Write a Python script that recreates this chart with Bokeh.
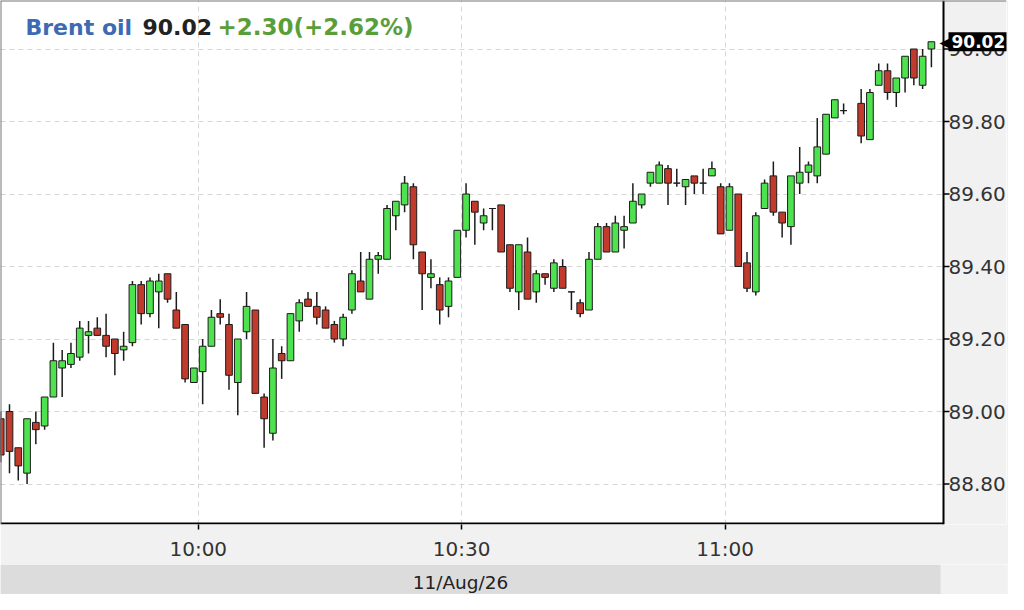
import numpy as np
import pandas as pd
from bokeh.plotting import figure
from bokeh.models import (ColumnDataSource, FixedTicker, Range1d, Label, NumeralTickFormatter,
                          BoxAnnotation, Span)
from bokeh.layouts import column
from bokeh.embed import file_html
from bokeh.resources import INLINE

# ---------------- data (1-minute candles, 11/Aug/26) ----------------
instrument = "Brent oil"
last_price = "90.02"
change_text = "+2.30(+2.62%)"
date_label = "11/Aug/26"

# bar start times: every minute 09:37 .. 11:23, no bar at 11:14
times = [t.strftime("%H:%M") for t in pd.date_range("2026-08-11 09:37", "2026-08-11 11:23", freq="1min")
         if t.strftime("%H:%M") != "11:14"]

opens = [88.98, 89.00, 88.90, 88.83, 88.97, 88.96, 89.04, 89.12, 89.13, 89.15,
         89.21, 89.23, 89.21, 89.20, 89.17, 89.19, 89.35, 89.27, 89.33, 89.38,
         89.28, 89.24, 89.08, 89.11, 89.18, 89.27, 89.24, 89.08, 89.22, 89.28,
         89.04, 88.94, 89.16, 89.14, 89.25, 89.31, 89.29, 89.28, 89.24, 89.20,
         89.28, 89.36, 89.31, 89.42, 89.42, 89.54, 89.57, 89.62, 89.44, 89.37,
         89.35, 89.29, 89.37, 89.50, 89.58, 89.52, 89.56, 89.57, 89.46, 89.33,
         89.44, 89.33, 89.38, 89.34, 89.40, 89.33, 89.30, 89.28, 89.42, 89.51,
         89.44, 89.50, 89.52, 89.57, 89.63, 89.63, 89.67, 89.63, 89.62, 89.65,
         89.63, 89.65, 89.62, 89.50, 89.60, 89.41, 89.33, 89.56, 89.65, 89.55,
         89.51, 89.63, 89.66, 89.65, 89.71, 89.81, 89.83, 89.85, 89.75, 89.90,
         89.94, 89.88, 89.92, 90.00, 89.90, 90.00]
highs = [89.00, 89.02, 88.90, 88.98, 89.00, 89.04, 89.19, 89.17, 89.19, 89.25,
         89.25, 89.26, 89.27, 89.20, 89.22, 89.36, 89.36, 89.37, 89.38, 89.38,
         89.33, 89.24, 89.12, 89.20, 89.28, 89.31, 89.27, 89.20, 89.33, 89.28,
         89.05, 89.20, 89.18, 89.27, 89.31, 89.33, 89.33, 89.29, 89.25, 89.27,
         89.39, 89.44, 89.44, 89.44, 89.57, 89.58, 89.65, 89.63, 89.44, 89.42,
         89.37, 89.37, 89.50, 89.63, 89.58, 89.56, 89.56, 89.57, 89.46, 89.46,
         89.48, 89.39, 89.38, 89.42, 89.42, 89.33, 89.31, 89.44, 89.52, 89.52,
         89.54, 89.54, 89.63, 89.60, 89.66, 89.69, 89.68, 89.67, 89.64, 89.65,
         89.67, 89.69, 89.63, 89.63, 89.60, 89.44, 89.55, 89.64, 89.69, 89.55,
         89.65, 89.73, 89.69, 89.81, 89.82, 89.86, 89.85, 89.89, 89.89, 89.96,
         89.96, 89.92, 89.98, 90.00, 90.00, 90.02]
lows = [88.86, 88.83, 88.81, 88.80, 88.91, 88.95, 89.04, 89.04, 89.12, 89.14,
        89.16, 89.21, 89.15, 89.10, 89.14, 89.18, 89.24, 89.26, 89.23, 89.30,
        89.23, 89.08, 89.08, 89.02, 89.18, 89.24, 89.06, 88.99, 89.20, 89.05,
        88.90, 88.92, 89.09, 89.14, 89.22, 89.29, 89.24, 89.23, 89.19, 89.18,
        89.27, 89.33, 89.31, 89.38, 89.42, 89.50, 89.55, 89.42, 89.28, 89.34,
        89.24, 89.26, 89.37, 89.48, 89.46, 89.50, 89.50, 89.44, 89.33, 89.28,
        89.31, 89.30, 89.35, 89.33, 89.34, 89.28, 89.26, 89.28, 89.42, 89.44,
        89.44, 89.45, 89.52, 89.56, 89.62, 89.63, 89.57, 89.62, 89.57, 89.60,
        89.60, 89.65, 89.49, 89.50, 89.40, 89.33, 89.32, 89.56, 89.54, 89.48,
        89.46, 89.60, 89.63, 89.63, 89.71, 89.81, 89.82, 89.74, 89.75, 89.90,
        89.86, 89.84, 89.88, 89.90, 89.89, 89.95]
closes = [88.88, 88.89, 88.85, 88.98, 88.95, 89.04, 89.14, 89.14, 89.16, 89.23,
          89.22, 89.21, 89.18, 89.16, 89.18, 89.35, 89.27, 89.36, 89.36, 89.31,
          89.23, 89.09, 89.12, 89.18, 89.26, 89.26, 89.10, 89.20, 89.29, 89.05,
          88.98, 89.12, 89.14, 89.27, 89.30, 89.29, 89.26, 89.23, 89.20, 89.26,
          89.38, 89.33, 89.42, 89.43, 89.56, 89.58, 89.63, 89.46, 89.38, 89.38,
          89.28, 89.36, 89.50, 89.60, 89.55, 89.54, 89.56, 89.44, 89.34, 89.46,
          89.31, 89.38, 89.37, 89.41, 89.34, 89.33, 89.27, 89.42, 89.51, 89.44,
          89.52, 89.51, 89.58, 89.60, 89.66, 89.68, 89.63, 89.63, 89.64, 89.63,
          89.63, 89.67, 89.49, 89.62, 89.40, 89.34, 89.54, 89.63, 89.55, 89.52,
          89.65, 89.66, 89.68, 89.73, 89.82, 89.86, 89.83, 89.76, 89.88, 89.94,
          89.88, 89.92, 89.98, 89.92, 89.98, 90.02]

x_tick_minutes = [600, 630, 660]
x_tick_labels = ["10:00", "10:30", "11:00"]
y_ticks = [88.80, 89.00, 89.20, 89.40, 89.60, 89.80, 90.00]

# ---------------- styling / layout ----------------
UP = "#4fe24f"
DOWN = "#c23a2b"
EDGE = "#1c1c1c"
FONT = "DejaVu Sans"
PANEL = "#f1f1f1"
BAND = "#dcdcdc"
PX_PER_MIN = 8.78
X0, X1 = 577.475, 692.053          # visible minutes (frame spans the whole width)
Y0, Y1 = 88.6883, 90.1338          # visible prices
T_AXIS = 684.878                   # minute where the price scale starts

df = pd.DataFrame(dict(time=times, open=opens, high=highs, low=lows, close=closes))
hm = df["time"].str.split(":", expand=True).astype(int)
df["t"] = hm[0] * 60 + hm[1] + 0.5
df["top"] = df[["open", "close"]].max(axis=1)
df["bottom"] = df[["open", "close"]].min(axis=1)
df["color"] = np.where(df["close"] >= df["open"], UP, DOWN)
src = ColumnDataSource(df)

p = figure(width=1008, height=564,
           x_range=Range1d(X0, X1), y_range=Range1d(Y0, Y1),
           y_axis_location="right", output_backend="svg", toolbar_location=None,
           min_border_left=0, min_border_top=0, min_border_right=2, min_border_bottom=40,
           background_fill_color="white", border_fill_color=PANEL)
p.outline_line_color = None

# grid
for g in (p.xgrid, p.ygrid):
    g.grid_line_color = "#d6d6d6"
    g.grid_line_dash = "5 4"
    g.grid_line_width = 1
p.ygrid.ticker = FixedTicker(ticks=y_ticks)

# price-scale panel (right part of the frame)
p.add_layout(BoxAnnotation(left=T_AXIS, fill_color=PANEL, fill_alpha=1, line_color=None, level="underlay"))
p.add_layout(Span(location=T_AXIS, dimension="height", line_color="black", line_width=2))
p.add_layout(Span(location=X0, dimension="height", line_color="#777777", line_width=2))
p.add_layout(Span(location=Y1, dimension="width", line_color="#777777", line_width=2))
p.segment(x0=[T_AXIS] * len(y_ticks), x1=[T_AXIS + 6 / PX_PER_MIN] * len(y_ticks),
          y0=y_ticks, y1=y_ticks, line_color="black", line_width=1.5)
p.segment(x0=[X0], x1=[T_AXIS], y0=[Y0 + 1 / 362.5], y1=[Y0 + 1 / 362.5],
          line_color="black", line_width=2)

# x axis
p.xaxis.ticker = FixedTicker(ticks=x_tick_minutes)
p.xaxis.major_label_overrides = {m: lab for m, lab in zip(x_tick_minutes, x_tick_labels)}
p.xaxis.minor_tick_line_color = None
p.xaxis.major_tick_in = 0
p.xaxis.major_tick_out = 5
p.xaxis.major_tick_line_color = "black"
p.xaxis.major_tick_line_width = 1.5
p.xaxis.axis_line_color = None
p.xaxis.major_label_standoff = 7
p.xaxis.major_label_text_font = FONT
p.xaxis.major_label_text_font_size = "20px"
p.xaxis.major_label_text_color = "#333333"

# y axis (labels drawn over the price-scale panel)
p.yaxis.ticker = FixedTicker(ticks=y_ticks)
p.yaxis.formatter = NumeralTickFormatter(format="0.00")
p.yaxis.minor_tick_line_color = None
p.yaxis.major_tick_line_color = None
p.yaxis.major_tick_in = 0
p.yaxis.major_tick_out = 0
p.yaxis.axis_line_color = None
p.yaxis.major_label_standoff = -58
p.yaxis.major_label_text_font = FONT
p.yaxis.major_label_text_font_size = "20px"
p.yaxis.major_label_text_color = "#333333"

# candles
p.segment(x0="t", y0="high", x1="t", y1="low", source=src, line_color=EDGE, line_width=1.5)
p.vbar(x="t", width=0.76, top="top", bottom="bottom", source=src,
       fill_color="color", line_color=EDGE, line_width=1)

# header text
title_y = 90.060
for txt, xs, col, fs in [(instrument, 25, "#3d6bb3", "22px"), (last_price, 142, "#222222", "22px"),
                         (change_text, 217, "#5a9e3a", "23px")]:
    p.add_layout(Label(x=xs, y=title_y, x_units="screen", y_units="data", text=txt,
                       text_font=FONT, text_font_style="bold", text_font_size=fs,
                       text_color=col, text_baseline="middle", text_align="left"))

# last price marker
p.add_layout(Label(x=939, y=float(closes[-1]), x_units="screen", y_units="data", text="◀",
                   text_font=FONT, text_font_size="17px", text_color="black",
                   text_baseline="middle", text_align="left"))
p.add_layout(Label(x=948, y=float(closes[-1]), x_units="screen", y_units="data", text=last_price,
                   text_font=FONT, text_font_style="bold", text_font_size="17px",
                   text_color="white", background_fill_color="black", padding=3,
                   text_baseline="middle", text_align="left"))

# date band below
band = figure(width=1008, height=30, x_range=Range1d(0, 1006), y_range=Range1d(0, 30),
              x_axis_location=None, y_axis_location=None,
              output_backend="svg", toolbar_location=None,
              min_border_left=0, min_border_right=2, min_border_top=0, min_border_bottom=0,
              background_fill_color=PANEL, border_fill_color=PANEL)
band.outline_line_color = None
band.grid.visible = False
band.add_layout(BoxAnnotation(left=0, right=940, fill_color=BAND, fill_alpha=1, line_color=None))
band.add_layout(Label(x=460, y=12, text=date_label, text_font=FONT, text_font_size="18.5px",
                      text_color="#222222", text_align="center", text_baseline="middle"))

layout = column(p, band, spacing=0)
open("out.html", "w").write(file_html(layout, INLINE))
